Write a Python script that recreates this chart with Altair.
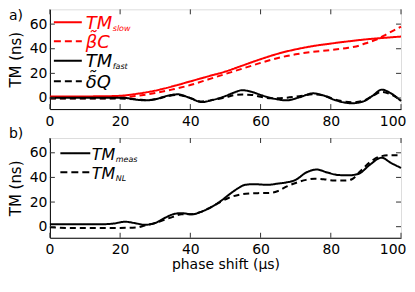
import altair as alt
import pandas as pd

# ---------------- data ----------------
# panel a
x_slow = [0, 10, 15, 20, 25, 30, 35, 40, 45, 50, 55, 60, 65, 70, 75, 80, 85, 90, 95, 100]
tm_slow = [1.3, 1.3, 1.4, 1.8, 3.5, 6.0, 9.5, 13.5, 17.5, 21.5, 26.5, 31.5, 36.0, 39.5, 42.2, 44.2, 46.0, 47.6, 48.8, 49.9]

x_beta = [0, 10, 15, 20, 25, 30, 35, 40, 45, 50, 55, 60, 65, 70, 75, 80, 85, 88, 90, 93, 96, 100]
beta_c = [-0.3, -0.3, -0.2, 0.2, 1.8, 4.0, 7.0, 10.5, 15.0, 19.5, 24.0, 28.5, 32.5, 35.5, 37.5, 39.0, 40.8, 42.5, 44.5, 47.5, 52.0, 58.0]

x_fast = [0, 10, 20, 22.5, 25, 27.5, 30, 33, 36.5, 39.5, 43.3, 46.5, 50, 52.5, 54.7, 57.5, 60, 63, 67.5, 71, 75, 78, 81, 86, 89.5, 92, 94.5, 97, 100]
tm_fast = [0.3, 0.3, 0.3, -0.3, -1.5, -1.9, -1.0, 1.5, 3.0, 0.5, -3.3, -1.5, 1.6, 4.5, 6.3, 5.0, 2.5, 0.0, -1.9, 0.5, 3.8, 2.0, -1.5, -4.3, -2.5, 2.0, 6.8, 4.0, -2.4]

x_dq = [0, 10, 20, 22.5, 25, 27.5, 30, 33, 36.5, 39.5, 43.3, 46.5, 50, 52.5, 55, 57.5, 60, 63, 67.5, 71, 75, 78, 81, 86, 89.5, 92, 94.5, 97, 100]
delta_q = [-0.5, -0.5, -0.5, -0.8, -1.2, -1.8, -1.0, 1.0, 2.5, 0.5, -2.8, -1.5, 0.5, 2.3, 2.8, 2.5, 1.0, -0.3, 0.3, 1.5, 3.0, 2.0, -1.0, -3.5, -2.0, 1.8, 5.0, 3.0, -2.0]

# panel b
x_meas = [0, 5, 10, 15, 18, 21.5, 24, 27, 30, 33, 35, 37.5, 40.5, 43, 46, 48.5, 51, 53.5, 55.6, 58, 62, 65, 67.5, 70, 73, 76, 79, 82, 85, 88, 91, 94.5, 97, 100]
tm_meas = [2.0, 2.0, 2.0, 2.0, 2.5, 4.0, 3.0, 1.5, 3.0, 7.5, 10.0, 11.0, 10.0, 12.0, 16.0, 20.5, 26.0, 31.0, 34.0, 34.5, 34.0, 35.0, 36.0, 38.0, 44.0, 46.4, 44.0, 42.0, 41.7, 43.0, 50.0, 56.0, 52.0, 47.7]

x_nl = [0, 5, 10, 15, 20, 25, 27, 30, 33, 35, 37.5, 40, 43, 46, 48.5, 51, 54, 57, 60, 63, 65, 67.5, 70, 73, 75.4, 78, 81, 84.3, 86, 88.4, 91, 94, 97, 100]
tm_nl = [-0.5, -1.0, -1.0, -1.0, -1.0, -0.5, 1.0, 3.0, 6.0, 8.0, 10.0, 10.0, 12.0, 16.0, 20.0, 23.5, 26.0, 27.0, 27.3, 27.5, 29.0, 32.7, 35.5, 38.0, 39.0, 38.5, 37.5, 37.4, 38.5, 45.0, 52.0, 57.0, 58.0, 58.0]

x_ticks = [0, 20, 40, 60, 80, 100]
y_ticks = [0, 20, 40, 60]

W, H = 352, 100
FONT = "DejaVu Sans"
RED = "#ff0000"

xscale = alt.Scale(domain=[0, 100], nice=False, zero=False)
yscale = alt.Scale(domain=[-9, 72], nice=False, zero=False)


def xaxis(show_title):
    kw = dict(values=x_ticks, tickSize=0, labelPadding=5, labelFontSize=14, labelFont=FONT,
              labelColor="black", labelFlush=True, labelFlushOffset=5, labelOverlap=False, grid=False,
              domainColor="black", domainWidth=1)
    if show_title:
        kw.update(title="phase shift (µs)", titleFont=FONT, titleFontSize=14, titleFontWeight="normal",
                  titleColor="black", titleY=31, titleBaseline="alphabetic")
    else:
        kw.update(title=None)
    return alt.Axis(**kw)


yaxis = alt.Axis(values=y_ticks, tickSize=0, labelPadding=3, labelFontSize=14, labelFont=FONT,
                 labelColor="black", labelOverlap=False, grid=False, domainColor="black", domainWidth=1,
                 title="TM (ns)", titleFont=FONT, titleFontSize=15, titleFontWeight="normal",
                 titleColor="black", titleX=-34, titleY=50, titleAngle=270, titleAlign="center",
                 titleBaseline="middle")


def line(xs, ys, color, dashed, axis_x):
    df = pd.DataFrame({"x": xs, "y": ys})
    m = alt.Chart(df).mark_line(color=color, strokeWidth=2, interpolate="monotone",
                                strokeDash=[6, 4] if dashed else [1, 0])
    return m.encode(x=alt.X("x:Q", scale=xscale, axis=axis_x),
                    y=alt.Y("y:Q", scale=yscale, axis=yaxis))


one = pd.DataFrame({"a": [0]})


def seg(x1, x2, y, color, dashed):
    return alt.Chart(one).mark_rule(color=color, strokeWidth=2,
                                    strokeDash=[7, 4] if dashed else [1, 0]).encode(
        x=alt.value(x1), x2=alt.value(x2), y=alt.value(y))


def txt(s, x, y, size, color, italic=True, baseline="alphabetic"):
    return alt.Chart(one).mark_text(text=s, font=FONT, fontSize=size, color=color,
                                    fontStyle="italic" if italic else "normal",
                                    align="left", baseline=baseline).encode(
        x=alt.value(x), y=alt.value(y))


def ticks(axis_x):
    tx = pd.DataFrame({"x": x_ticks})
    ty = pd.DataFrame({"y": y_ticks})
    c = "#333333"
    xe = alt.X("x:Q", scale=xscale, axis=axis_x)
    ye = alt.Y("y:Q", scale=yscale, axis=yaxis)
    bot = alt.Chart(tx).mark_rule(color=c).encode(x=xe, y=alt.value(H), y2=alt.value(H - 5))
    top = alt.Chart(tx).mark_rule(color=c).encode(x=xe, y=alt.value(0), y2=alt.value(5))
    lef = alt.Chart(ty).mark_rule(color=c).encode(y=ye, x=alt.value(0), x2=alt.value(5))
    rig = alt.Chart(ty).mark_rule(color=c).encode(y=ye, x=alt.value(W - 5), x2=alt.value(W))
    return [bot, top, lef, rig]


LF = 18  # legend font size, panel a

# ---------------- panel a ----------------
ax_a = xaxis(False)
panel_a = alt.layer(
    line(x_slow, tm_slow, RED, False, ax_a),
    line(x_beta, beta_c, RED, True, ax_a),
    line(x_fast, tm_fast, "black", False, ax_a),
    line(x_dq, delta_q, "black", True, ax_a),
    *ticks(ax_a),
    seg(4, 32, 13, RED, False), txt("TM", 36, 19.5, LF, RED), txt("slow", 63, 21.5, 8, RED),
    seg(4, 32, 32, RED, True), txt("β\u0303C", 36, 38.5, LF, RED),
    seg(4, 32, 51.5, "black", False), txt("TM", 36, 58, LF, "black"), txt("fast", 63, 60, 8, "black"),
    seg(4, 32, 72, "black", True), txt("δ\u0303Q", 36, 78.5, LF, "black"),
    txt("a)", -41, 11, 14, "black", italic=False),
).properties(width=W, height=H)

# ---------------- panel b ----------------
ax_b = xaxis(True)
panel_b = alt.layer(
    line(x_meas, tm_meas, "black", False, ax_b),
    line(x_nl, tm_nl, "black", True, ax_b),
    *ticks(ax_b),
    seg(10.5, 40.5, 15.3, "black", False), txt("TM", 42, 22, 16, "black"), txt("meas", 66, 24, 8, "black"),
    seg(10.5, 40.5, 34.3, "black", True), txt("TM", 42, 41, 16, "black"), txt("NL", 66, 43, 8, "black"),
    txt("b)", -41, 0, 14, "black", italic=False),
).properties(width=W, height=H)

chart = alt.vconcat(panel_a, panel_b, spacing=-3).properties(
    padding={"left": 0, "top": 0, "right": 0, "bottom": 4}
).configure_view(stroke="#888888", strokeWidth=1).configure(background="white")

chart.save("out.html", embed_options={"renderer": "svg", "actions": False})
